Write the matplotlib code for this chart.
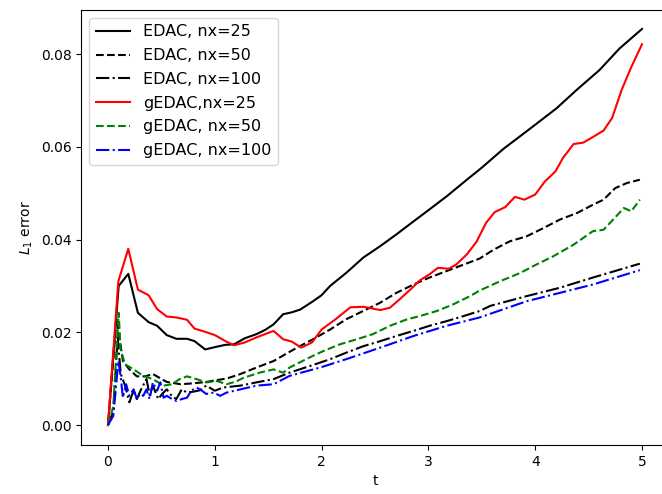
import matplotlib
matplotlib.use("Agg")
import matplotlib.pyplot as plt

# EDAC, nx=25
t_e25 = [0, 0.1, 0.19, 0.28, 0.38, 0.46, 0.55, 0.64, 0.74, 0.81, 0.91, 1.0, 1.1, 1.18,
         1.28, 1.39, 1.47, 1.55, 1.64, 1.72, 1.8, 1.92, 2.0, 2.08, 2.23, 2.39, 2.55, 2.7,
         2.86, 3.01, 3.17, 3.36, 3.5, 3.7, 3.98, 4.2, 4.39, 4.6, 4.79, 5.0]
e25 = [0, 0.030, 0.0326, 0.0242, 0.0222, 0.0214, 0.0194, 0.0186, 0.0186, 0.0181, 0.0163,
       0.0168, 0.0173, 0.0174, 0.0187, 0.0196, 0.0205, 0.0217, 0.0239, 0.0243, 0.0249,
       0.0267, 0.028, 0.030, 0.0328, 0.0361, 0.0386, 0.0411, 0.0439, 0.0465, 0.0493,
       0.0529, 0.0555, 0.0595, 0.0644, 0.0683, 0.0723, 0.0765, 0.0812, 0.0854]

# EDAC, nx=50
t_e50 = [0, 0.08, 0.14, 0.2, 0.27, 0.35, 0.42, 0.55, 0.68, 0.8, 0.92, 1.05, 1.12, 1.24,
         1.39, 1.55, 1.61, 1.77, 1.92, 2.08, 2.23, 2.39, 2.55, 2.70, 2.86, 3.01, 3.17,
         3.33, 3.48, 3.61, 3.76, 3.92, 4.08, 4.23, 4.39, 4.54, 4.64, 4.75, 4.86, 4.98]
e50 = [0, 0.023, 0.0138, 0.012, 0.0105, 0.0105, 0.011, 0.0093, 0.0088, 0.009, 0.0093,
       0.0098, 0.0101, 0.011, 0.0124, 0.0138, 0.0146, 0.0167, 0.0185, 0.0206, 0.0228,
       0.0246, 0.0264, 0.0285, 0.0303, 0.0318, 0.0332, 0.0346, 0.0359, 0.0378, 0.0396,
       0.0407, 0.0425, 0.0443, 0.0457, 0.0475, 0.0486, 0.0511, 0.0522, 0.0529]

# EDAC, nx=100
t_e100 = [0, 0.05, 0.09, 0.12, 0.16, 0.2, 0.24, 0.27, 0.31, 0.36, 0.39, 0.42, 0.47, 0.51,
          0.55, 0.6, 0.64, 0.69, 0.74, 0.8, 0.86, 0.92, 1.0, 1.08, 1.24, 1.39, 1.55, 1.70,
          1.9, 2.08, 2.23, 2.39, 2.55, 2.70, 2.86, 3.01, 3.17, 3.33, 3.48, 3.58, 3.92,
          4.23, 4.54, 4.98]
e100 = [0, 0.003, 0.019, 0.011, 0.0085, 0.0049, 0.0075, 0.0056, 0.0077, 0.0099, 0.0065,
        0.0085, 0.0056, 0.0068, 0.0077, 0.0062, 0.0056, 0.0077, 0.007, 0.0072, 0.0075,
        0.0085, 0.0074, 0.0081, 0.0085, 0.0092, 0.0099, 0.0113, 0.0128, 0.0142, 0.0156,
        0.017, 0.0181, 0.0192, 0.0203, 0.0214, 0.0224, 0.0235, 0.0246, 0.0257, 0.0278,
        0.0296, 0.0318, 0.0348]

# gEDAC, nx=25
t_g25 = [0, 0.097, 0.19, 0.28, 0.38, 0.46, 0.55, 0.64, 0.74, 0.81, 0.91, 1.0, 1.1, 1.18,
         1.28, 1.39, 1.47, 1.55, 1.64, 1.72, 1.81, 1.91, 2.0, 2.13, 2.27, 2.39, 2.55,
         2.64, 2.73, 2.83, 2.92, 3.01, 3.09, 3.19, 3.26, 3.36, 3.45, 3.54, 3.62, 3.72,
         3.81, 3.90, 4.0, 4.09, 4.19, 4.26, 4.36, 4.45, 4.54, 4.64, 4.72, 4.81, 4.9, 5.0]
g25 = [0, 0.031, 0.038, 0.0292, 0.028, 0.025, 0.0234, 0.0232, 0.0227, 0.0208, 0.0201,
       0.0194, 0.0181, 0.0172, 0.0178, 0.0189, 0.0196, 0.0203, 0.0185, 0.0180, 0.0167,
       0.0178, 0.0206, 0.0228, 0.0254, 0.0255, 0.0248, 0.0253, 0.0271, 0.0292, 0.0312,
       0.0325, 0.0339, 0.0337, 0.0346, 0.0368, 0.0395, 0.0436, 0.0459, 0.047, 0.0492,
       0.0486, 0.0497, 0.0525, 0.0547, 0.0576, 0.0606, 0.0609, 0.0621, 0.0635, 0.0662,
       0.0723, 0.0772, 0.0821]

# gEDAC, nx=50
t_g50 = [0, 0.05, 0.10, 0.118, 0.16, 0.24, 0.33, 0.42, 0.52, 0.6, 0.67, 0.74, 0.83, 0.92,
         1.02, 1.11, 1.2, 1.27, 1.42, 1.55, 1.64, 1.70, 1.89, 2.02, 2.17, 2.33, 2.48,
         2.64, 2.80, 2.92, 3.08, 3.23, 3.39, 3.48, 3.67, 3.86, 4.01, 4.17, 4.36, 4.54,
         4.64, 4.73, 4.83, 4.90, 4.98]
g50 = [0, 0.004, 0.0242, 0.0163, 0.0131, 0.012, 0.0106, 0.0099, 0.0085, 0.0088, 0.0099,
       0.0105, 0.0099, 0.0092, 0.0095, 0.0088, 0.0094, 0.0102, 0.0113, 0.012, 0.0113,
       0.0124, 0.0146, 0.016, 0.0174, 0.0185, 0.0196, 0.0214, 0.0228, 0.0235, 0.0246,
       0.026, 0.0278, 0.029, 0.031, 0.0328, 0.0346, 0.0364, 0.0389, 0.0418, 0.0421,
       0.0443, 0.0468, 0.0461, 0.0486]

# gEDAC, nx=100
t_g100 = [0, 0.05, 0.097, 0.118, 0.14, 0.17, 0.2, 0.24, 0.27, 0.3, 0.33, 0.36, 0.39, 0.42,
          0.46, 0.49, 0.52, 0.55, 0.6, 0.64, 0.69, 0.74, 0.78, 0.83, 0.88, 0.92, 0.99,
          1.05, 1.11, 1.24, 1.39, 1.55, 1.70, 2.0, 2.23, 2.55, 2.86, 3.17, 3.48, 3.92,
          4.54, 4.98]
g100 = [0, 0.002, 0.0138, 0.0106, 0.0059, 0.0088, 0.0063, 0.0077, 0.0056, 0.0067, 0.0063,
        0.0077, 0.0056, 0.0092, 0.0074, 0.0092, 0.0059, 0.0063, 0.0056, 0.0052, 0.0056,
        0.0059, 0.0074, 0.0081, 0.0074, 0.0067, 0.007, 0.0063, 0.007, 0.0077, 0.0085,
        0.0088, 0.0106, 0.0125, 0.0142, 0.0167, 0.0192, 0.0214, 0.0232, 0.0267, 0.0303,
        0.0334]

fig = plt.figure(figsize=(6.62, 4.94), dpi=100)
ax = fig.add_axes([0.1228, 0.0992, 0.8873, 0.8806])

ax.plot(t_e25, e25, 'k-', label='EDAC, nx=25')
ax.plot(t_e50, e50, 'k--', label='EDAC, nx=50')
ax.plot(t_e100, e100, 'k-.', label='EDAC, nx=100')
ax.plot(t_g25, g25, 'r-', label='gEDAC,nx=25')
ax.plot(t_g50, g50, 'g--', label='gEDAC, nx=50')
ax.plot(t_g100, g100, 'b-.', label='gEDAC, nx=100')

ax.set_xlim(-0.25, 5.25)
ax.set_ylim(-0.0043, 0.0895)
ax.set_xlabel('t')
ax.set_ylabel('$L_1$ error')
ax.legend(loc='upper left', fontsize=11.5, labelspacing=0.55, handlelength=2.15)

fig.savefig('out.png', dpi=100)
